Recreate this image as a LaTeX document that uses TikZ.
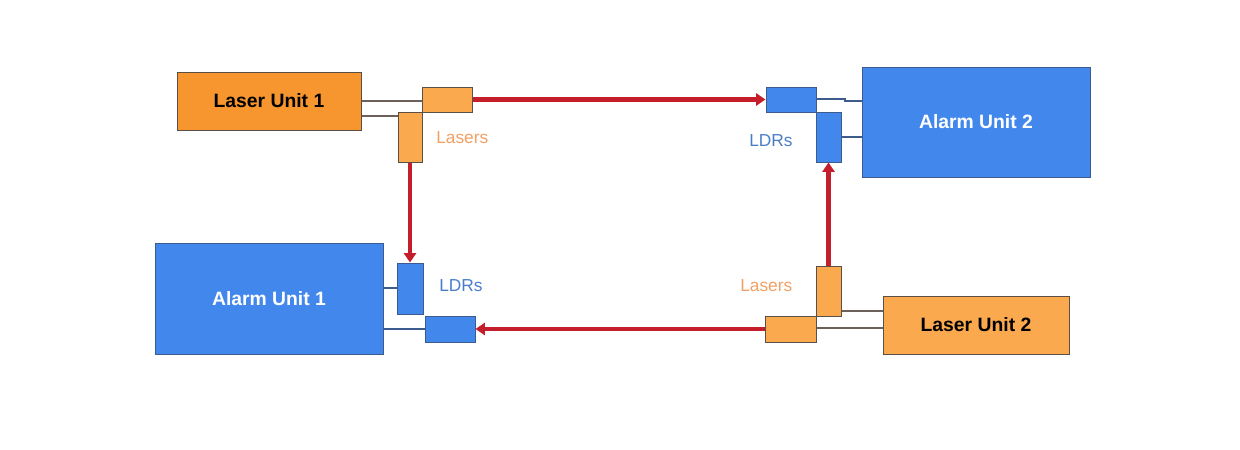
\documentclass[tikz,border=0pt]{standalone}
\usepackage{fontspec}
\setmainfont{Liberation Sans}
\usetikzlibrary{fit,arrows.meta}
\definecolor{orA}{HTML}{F7962F}
\definecolor{orB}{HTML}{FBA94F}
\definecolor{blA}{HTML}{4287EC}
\definecolor{blE}{HTML}{3B5C8C}
\definecolor{grE}{HTML}{5A5048}
\definecolor{beam}{HTML}{C41E2A}
\definecolor{ldrT}{HTML}{4A7DC9}
\definecolor{lasT}{HTML}{F2A064}
\tikzset{
  obox/.style={fill=orB,draw=grE,line width=0.75pt,inner sep=0pt},
  bbox/.style={fill=blA,draw=blE,line width=0.75pt,inner sep=0pt},
  wireo/.style={draw=grE!90,line width=0.8pt},
  wireb/.style={draw=blE,line width=0.8pt},
  beamarrow/.style={draw=beam,line width=3.4pt,-{Triangle[length=7pt,width=9pt]}},
  lbl/.style={font=\fontsize{13}{15}\selectfont,inner sep=0pt},
  unitlbl/.style={font=\fontsize{14.5}{17}\selectfont\bfseries}
}
\begin{document}
\begin{tikzpicture}[x=0.75pt,y=-0.75pt]
\useasboundingbox (0,0) rectangle (1240,450);
% main units
\node[obox,fill=orA,fit={(177,72)(361,130)}] (LU1) {};
\node[unitlbl] at (LU1.center) {Laser Unit 1};
\node[bbox,fit={(862,67)(1090,177)}] (AU2) {};
\node[unitlbl,text=white] at (AU2.center) {Alarm Unit 2};
\node[bbox,fit={(155,243)(383,354)}] (AU1) {};
\node[unitlbl,text=white] at (AU1.center) {Alarm Unit 1};
\node[obox,fit={(883,296)(1069,354)}] (LU2) {};
\node[unitlbl] at (LU2.center) {Laser Unit 2};
% small boxes
\node[obox,fit={(422,87)(472,112)}] (lasTH) {};
\node[obox,fit={(398,112)(422,162)}] (lasTV) {};
\node[bbox,fit={(766,87)(816,112)}] (ldrTH) {};
\node[bbox,fit={(816,112)(841,162)}] (ldrTV) {};
\node[bbox,fit={(397,263)(423,314)}] (ldrBV) {};
\node[bbox,fit={(425,316)(475,342)}] (ldrBH) {};
\node[obox,fit={(816,266)(841,316)}] (lasBV) {};
\node[obox,fit={(765,316)(816,342)}] (lasBH) {};
% coordinates for wires
\coordinate (w1) at (0,101);
\coordinate (w2) at (0,116);
\coordinate (w3) at (845,99);
\coordinate (w4) at (845,101);
\coordinate (w5) at (0,137);
\coordinate (w6) at (0,288);
\coordinate (w7) at (0,329);
\coordinate (w8) at (0,311);
\coordinate (w9) at (0,328);
% wires
\draw[wireo] (LU1.east |- w1) -- (lasTH.west |- w1);
\draw[wireo] (LU1.east |- w2) -- (lasTV.west |- w2);
\draw[wireb] (ldrTH.east |- w3) -- (w3) -- (w4) -- (AU2.west |- w4);
\draw[wireb] (ldrTV.east |- w5) -- (AU2.west |- w5);
\draw[wireb] (AU1.east |- w6) -- (ldrBV.west |- w6);
\draw[wireb] (AU1.east |- w7) -- (ldrBH.west |- w7);
\draw[wireo] (lasBV.east |- w8) -- (LU2.west |- w8);
\draw[wireo] (lasBH.east |- w9) -- (LU2.west |- w9);
% beams
\draw[beamarrow] (lasTH.east) -- (ldrTH.west);
\draw[beamarrow] (lasTV.south) -- (ldrBV.north);
\draw[beamarrow] (lasBV.north) -- (ldrTV.south);
\draw[beamarrow] (lasBH.west) -- (ldrBH.east);
% labels
\node[lbl,text=lasT,anchor=west] (t1) at (436,138) {Lasers};
\node[lbl,text=ldrT,anchor=west] (t2) at (749,141) {LDRs};
\node[lbl,text=ldrT,anchor=west] (t3) at (439,286) {LDRs};
\node[lbl,text=lasT,anchor=west] (t4) at (740,286) {Lasers};
\end{tikzpicture}
\end{document}
